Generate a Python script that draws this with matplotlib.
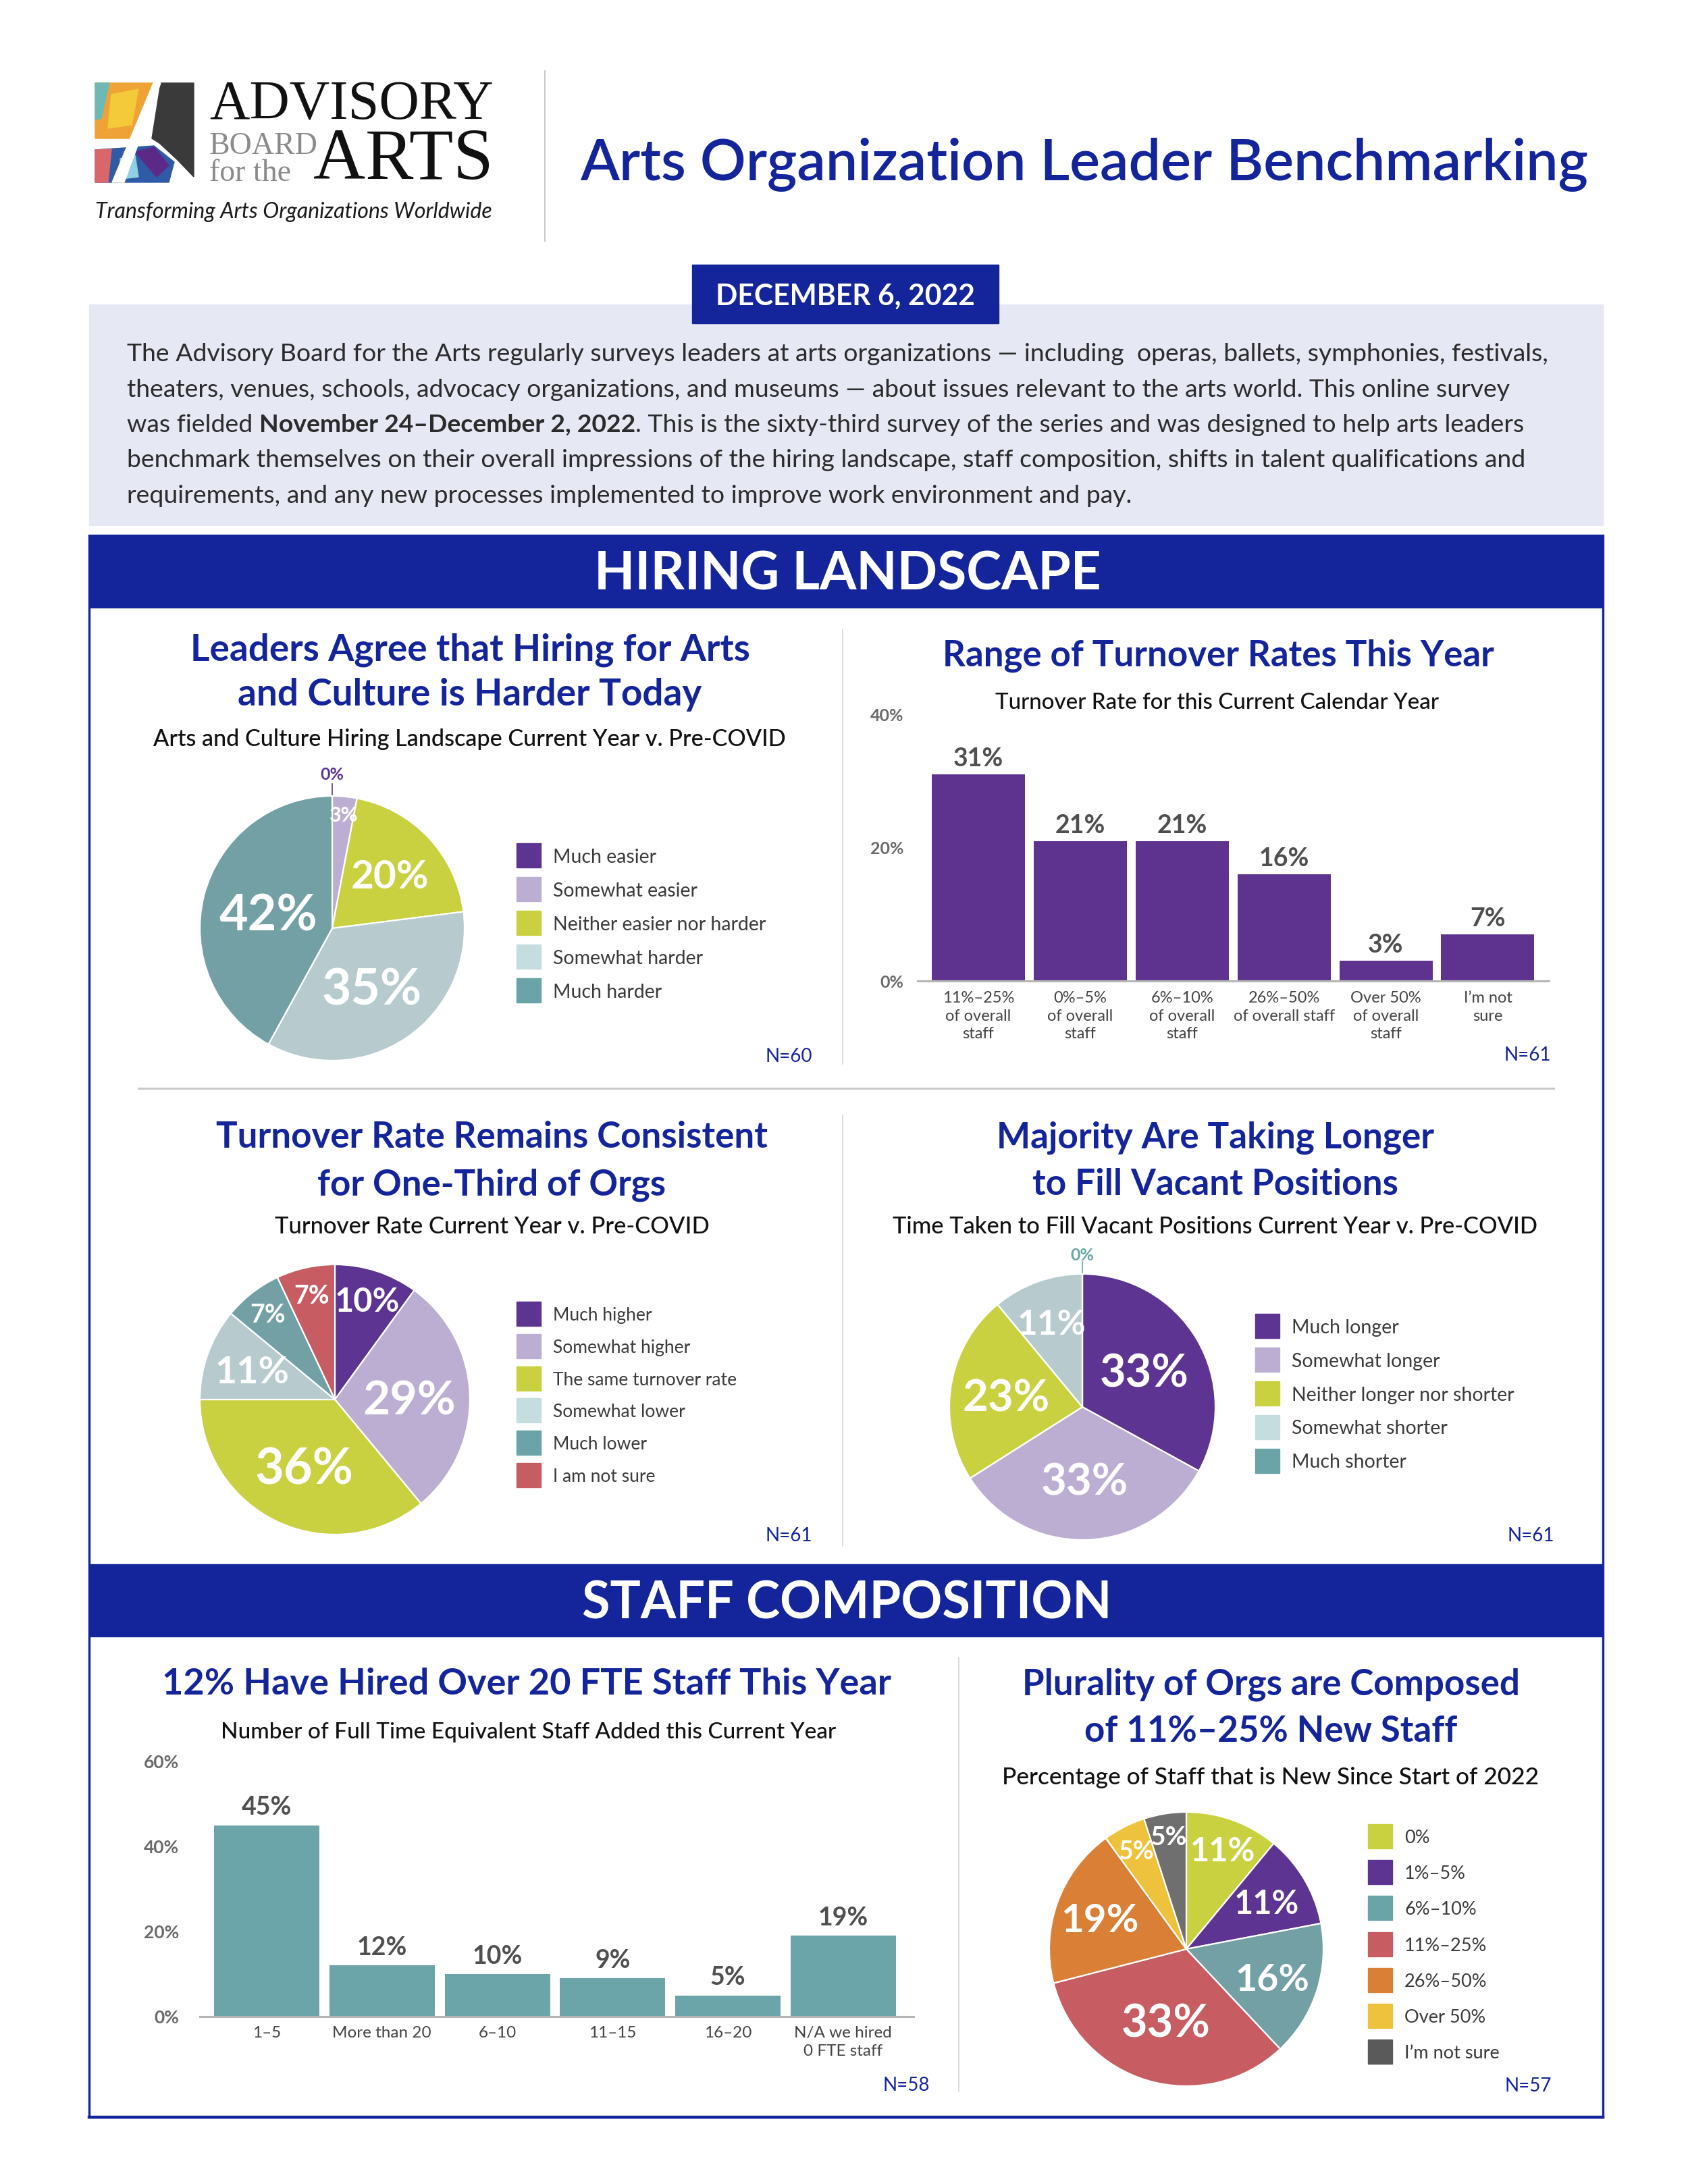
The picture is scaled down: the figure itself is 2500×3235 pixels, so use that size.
import matplotlib
matplotlib.use("Agg")
import matplotlib.pyplot as plt
from matplotlib.patches import Rectangle, Polygon
import numpy as np

# ------------------------------------------------------------------ data
hiring_cats = ["Much easier", "Somewhat easier", "Neither easier nor harder",
               "Somewhat harder", "Much harder"]
hiring_vals = [0, 3, 20, 35, 42]

range_cats = ["11%–25%\nof overall\nstaff", "0%–5%\nof overall\nstaff",
              "6%–10%\nof overall\nstaff", "26%–50%\nof overall staff",
              "Over 50%\nof overall\nstaff", "I’m not\nsure"]
range_vals = [31, 21, 21, 16, 3, 7]
range_ticks = [0, 20, 40]

turnover_cats = ["Much higher", "Somewhat higher", "The same turnover rate",
                 "Somewhat lower", "Much lower", "I am not sure"]
turnover_vals = [10, 29, 36, 11, 7, 7]

fill_cats = ["Much longer", "Somewhat longer", "Neither longer nor shorter",
             "Somewhat shorter", "Much shorter"]
fill_vals = [33, 33, 23, 11, 0]

fte_cats = ["1–5", "More than 20", "6–10", "11–15", "16–20", "N/A we hired\n0 FTE staff"]
fte_vals = [45, 12, 10, 9, 5, 19]
fte_ticks = [0, 20, 40, 60]

new_cats = ["0%", "1%–5%", "6%–10%", "11%–25%", "26%–50%", "Over 50%", "I’m not sure"]
new_vals = [11, 11, 16, 33, 19, 5, 5]

n_labels = ["N=60", "N=61", "N=61", "N=61", "N=58", "N=57"]

# ------------------------------------------------------------------ style
W, H = 2500, 3235
FONT = "Lato"
plt.rcParams['font.family'] = [FONT, 'DejaVu Sans']
BLUE = "#14259b"
PURPLE = "#5d3491"
LAV = "#bcaed2"
LIME = "#c9d141"
LGB = "#b7cbce"
TEAL = "#72a0a4"
RED = "#c85c63"
ORANGE = "#d97f36"
YELLOW = "#efc23d"
GRAY = "#6f6f6f"
BAR_PURPLE = "#5e3390"
BAR_TEAL = "#6ba4a9"
TXT = "#333333"

fig = plt.figure(figsize=(W / 100, H / 100), dpi=100)
fig.patch.set_facecolor("white")
bg = fig.add_axes([0, 0, 1, 1], zorder=0)
bg.set_xlim(0, W)
bg.set_ylim(H, 0)
bg.axis("off")
R = fig.canvas.get_renderer()


def T(x, y, s, size, width=None, ha="center", va="baseline", weight="normal",
      color=TXT, style="normal", family=None, ax=None, zorder=5, **extra):
    ax = ax or bg
    kw = dict(fontsize=size, ha=ha, va=va, fontweight=weight, color=color,
              fontstyle=style, zorder=zorder)
    kw.update(extra)
    if family:
        kw["family"] = family
    t = ax.text(x, y, s, **kw)
    if width:
        w = t.get_window_extent(R).width
        t.set_fontsize(size * width / w)
    return t


def measure(s, fs, weight="normal"):
    t = bg.text(0, 0, s, fontsize=fs, fontweight=weight)
    w = t.get_window_extent(R).width
    t.remove()
    return w


def title_block(cx, baselines, lines, width, size=42, weight="bold", color=BLUE):
    t0 = T(cx, baselines[0], lines[0], size, width=width, weight=weight, color=color)
    fs = t0.get_fontsize()
    for b, l in zip(baselines[1:], lines[1:]):
        T(cx, b, l, fs, weight=weight, color=color)


def pax(x0, y0, x1, y1, z=2):
    return fig.add_axes([x0 / W, 1 - y1 / H, (x1 - x0) / W, (y1 - y0) / H], zorder=z)


# ------------------------------------------------------------------ logo
bg.add_patch(Polygon([(141, 123), (227, 123), (197, 205), (141, 205)], closed=True,
                     color="#efa236", zorder=2))
bg.add_patch(Polygon([(141, 123), (162, 123), (150, 175), (141, 178)], closed=True,
                     color="#6fb9b5", zorder=3))
bg.add_patch(Polygon([(165, 140), (205, 132), (195, 185), (160, 190)], closed=True,
                     color="#f4c93a", zorder=3))
bg.add_patch(Polygon([(238, 123), (287, 123), (287, 262), (262, 236), (236, 212), (225, 205)],
                     closed=True, color="#3a3a3a", zorder=2))
bg.add_patch(Polygon([(141, 222), (228, 216), (258, 240), (250, 270), (141, 270)],
                     closed=True, color="#2f5aa6", zorder=2))
bg.add_patch(Polygon([(141, 222), (165, 221), (160, 270), (141, 270)], closed=True,
                     color="#d8666b", zorder=3))
bg.add_patch(Polygon([(200, 225), (228, 218), (250, 245), (232, 262)], closed=True,
                     color="#5b2a86", zorder=3))
bg.add_patch(Polygon([(178, 235), (200, 230), (205, 262), (180, 265)], closed=True,
                     color="#8fd0e0", zorder=3))
bg.add_patch(Polygon([(227, 123), (238, 123), (184, 270), (166, 270)], closed=True,
                     color="white", zorder=4))
T(310, 177, "ADVISORY", 60, width=421, ha="left", family="Liberation Serif", color="#111111")
T(310, 268, "BOARD\nfor the", 33, width=161, ha="left", family="Liberation Serif",
  color="#8a8a8a", linespacing=0.92)
T(464, 265, "ARTS", 70, width=267, ha="left", family="Liberation Serif", color="#111111")
T(141, 323, "Transforming Arts Organizations Worldwide", 24, width=590, ha="left",
  style="italic", color="#1a1a1a")
bg.plot([807, 807], [105, 357], color="#bdbdbd", lw=1.2, zorder=2)

# ------------------------------------------------------------------ header
T(859, 267, "Arts Organization Leader Benchmarking", 66, width=1494, ha="left",
  weight="semibold", color=BLUE)
bg.add_patch(Rectangle((132, 451), 2242, 327, color="#e6e8f4", zorder=1))
bg.add_patch(Rectangle((1025, 392), 454, 87, color=BLUE, zorder=3))
T(1252, 452, "DECEMBER 6, 2022", 30, width=384, weight="bold", color="white", zorder=6)

intro = [
    [("The Advisory Board for the Arts regularly surveys leaders at arts organizations — including  operas, ballets, symphonies, festivals,", False)],
    [("theaters, venues, schools, advocacy organizations, and museums — about issues relevant to the arts world. This online survey", False)],
    [("was fielded", False), ("November 24–December 2, 2022", True),
     (". This is the sixty-third survey of the series and was designed to help arts leaders", False)],
    [("benchmark themselves on their overall impressions of the hiring landscape, staff composition, shifts in talent qualifications and", False)],
    [("requirements, and any new processes implemented to improve work environment and pay.", False)],
]
fs_intro = 24 * 2107 / measure(intro[0][0][0], 24)
space_w = measure("a a", fs_intro) - measure("aa", fs_intro)
for i, line in enumerate(intro):
    y = 535 + 52.5 * i
    x = 188
    for j, (seg, bold) in enumerate(line):
        t = T(x, y, seg, fs_intro, ha="left", weight="bold" if bold else "normal",
              color="#2b2b2b")
        x += t.get_window_extent(R).width
        if seg == "was fielded":
            x += space_w

# ------------------------------------------------------------------ frame & bands
bg.add_patch(Rectangle((132, 793), 2242, 3136 - 793, fill=False, edgecolor=BLUE,
                       lw=2.4, zorder=3))
bg.plot([132, 2374], [3136, 3136], color=BLUE, lw=3.2, zorder=3)
bg.add_patch(Rectangle((132, 793), 2242, 107, color=BLUE, zorder=3))
bg.add_patch(Rectangle((132, 2317), 2242, 107, color=BLUE, zorder=3))
T(1255, 873, "HIRING LANDSCAPE", 54, width=752, weight="bold", color="white", zorder=6)
T(1254, 2398, "STAFF COMPOSITION", 54, width=784, weight="bold", color="white", zorder=6)

bg.plot([205, 2301], [1612, 1612], color="#c9c9c9", lw=2.2, zorder=2)
bg.plot([1248, 1248], [932, 1576], color="#d0d0d0", lw=1.1, zorder=2)
bg.plot([1248, 1248], [1652, 2290], color="#d0d0d0", lw=1.1, zorder=2)
bg.plot([1420, 1420], [2455, 3098], color="#d0d0d0", lw=1.1, zorder=2)

# ------------------------------------------------------------------ titles
title_block(696, [978, 1045], ["Leaders Agree that Hiring for Arts", "and Culture is Harder Today"], 829)
T(695, 1105, "Arts and Culture Hiring Landscape Current Year v. Pre-COVID", 26, width=938,
  weight="medium", color="#111111")
title_block(1804, [987], ["Range of Turnover Rates This Year"], 818)
T(1803, 1050, "Turnover Rate for this Current Calendar Year", 26, width=659,
  weight="medium", color="#111111")
title_block(728, [1700, 1770], ["Turnover Rate Remains Consistent", "for One-Third of Orgs"], 818)
T(729, 1827, "Turnover Rate Current Year v. Pre-COVID", 26, width=645,
  weight="medium", color="#111111")
title_block(1800, [1700, 1770], ["Majority Are Taking Longer", "to Fill Vacant Positions"], 649)
T(1800, 1827, "Time Taken to Fill Vacant Positions Current Year v. Pre-COVID", 26, width=959,
  weight="medium", color="#111111")
title_block(780, [2510], ["12% Have Hired Over 20 FTE Staff This Year"], 1083)
T(783, 2575, "Number of Full Time Equivalent Staff Added this Current Year", 26, width=914,
  weight="medium", color="#111111")
title_block(1882, [2510, 2580], ["Plurality of Orgs are Composed", "of 11%–25% New Staff"], 737)
T(1882, 2643, "Percentage of Staff that is New Since Start of 2022", 26, width=796,
  weight="medium", color="#111111")

# N labels
for (x, y), s in zip([(1203, 1573), (2297, 1571), (1203, 2283), (2302, 2283),
                      (1377, 3097), (2298, 3098)], n_labels):
    T(x, y, s, 20, ha="right", color=BLUE)


# ------------------------------------------------------------------ pies
def pie(cx, cy, r, vals, colors, radii, sizes, zero_color):
    ax = pax(cx - r, cy - r, cx + r, cy + r)
    wedges, _ = ax.pie(vals, colors=colors, startangle=90, counterclock=False,
                       wedgeprops=dict(edgecolor="white", linewidth=1.6))
    ax.set_xlim(-1, 1)
    ax.set_ylim(-1, 1)
    ax.axis("off")
    for w, v, rr, s in zip(wedges, vals, radii, sizes):
        w.set_clip_on(False)
        ang = np.deg2rad((w.theta1 + w.theta2) / 2)
        cxl, cyl = np.cos(ang), np.sin(ang)
        if v > 0:
            ax.text(rr * cxl, rr * cyl, f"{v}%", ha="center", va="center_baseline",
                    fontsize=s, color="white", fontweight="bold", clip_on=False)
        else:
            ax.text(rr * cxl, rr * cyl, f"{v}%", ha="center", va="center_baseline",
                    fontsize=s, color=zero_color, fontweight="bold", clip_on=False)
            ax.plot([1.01 * cxl, 1.09 * cxl], [1.01 * cyl, 1.09 * cyl],
                    color=zero_color, lw=1.2, clip_on=False)


def legend(x, y0, step, cats, colors, fs, size=36):
    for i, (c, col) in enumerate(zip(cats, colors)):
        yc = y0 + i * step
        bg.add_patch(Rectangle((x, yc - size / 2), size, size, color=col, zorder=4))
        T(x + size + 18, yc, c, fs, ha="left", va="center_baseline", color="#3b3b3b")


pie(492, 1375, 196, hiring_vals, [PURPLE, LAV, LIME, LGB, TEAL],
    [1.17, 0.87, 0.6, 0.53, 0.5], [18, 22, 42, 54, 53], PURPLE)
legend(765, 1267, 50, hiring_cats, [PURPLE, LAV, LIME, "#c6dde0", "#6aa4a8"], 20.5)

pie(496, 2073, 200, turnover_vals, [PURPLE, LAV, LIME, LGB, TEAL, RED],
    [0.78, 0.55, 0.54, 0.65, 0.81, 0.8], [35, 50, 53, 40, 27, 27], PURPLE)
legend(765, 1946, 47.8, turnover_cats, [PURPLE, LAV, LIME, "#c6dde0", "#6aa4a8", RED], 19)

pie(1603, 2084, 197, fill_vals, [PURPLE, LAV, LIME, LGB, TEAL],
    [0.54, 0.54, 0.58, 0.68, 1.15], [48, 47, 47, 37, 18], "#6aa4a8")
legend(1859, 1964, 50, fill_cats, [PURPLE, LAV, LIME, "#c6dde0", "#6aa4a8"], 20.5)

pie(1757, 2887, 203, new_vals, [LIME, PURPLE, TEAL, RED, ORANGE, YELLOW, GRAY],
    [0.78, 0.68, 0.66, 0.54, 0.67, 0.81, 0.84], [35, 35, 40, 48, 42, 27, 28], GRAY)
legend(2026, 2720, 53.2, new_cats, [LIME, PURPLE, "#6aa4a8", RED, ORANGE, YELLOW, "#5a5a5a"], 19.5)


# ------------------------------------------------------------------ bars
def bars(x0, x1, base_y, ppp, ymax, cats, vals, color, bw, ticks, xlim,
         tick_fs, tick_pad, xl_fs, xl_pad, xl_ls, gap):
    top = base_y - ppp * ymax
    ax = pax(x0, top, x1, base_y)
    ax.patch.set_alpha(0)
    xs = np.arange(len(vals))
    ax.bar(xs, vals, width=bw, color=color, zorder=2)
    ax.set_xlim(*xlim)
    ax.set_ylim(0, ymax)
    for s in ax.spines.values():
        s.set_visible(False)
    ax.axhline(0, color="#b5b5b5", lw=2.2, zorder=3, clip_on=False)
    ax.set_yticks(ticks)
    ax.set_yticklabels([f"{t}%" for t in ticks], fontweight="bold")
    ax.tick_params(axis="y", length=0, pad=tick_pad, labelsize=tick_fs, labelcolor="#6a6a6a")
    ax.set_xticks(xs)
    ax.set_xticklabels(cats, fontsize=xl_fs, color="#444444", linespacing=xl_ls)
    ax.tick_params(axis="x", length=0, pad=xl_pad)
    for x, v in zip(xs, vals):
        ax.annotate(f"{v}%", (x, v), xytext=(0, gap), textcoords="offset points",
                    ha="center", va="baseline", fontsize=27, fontweight="bold",
                    color="#4f4f4f")


bars(1359, 2294, 1453, 9.87, 40, range_cats, range_vals, BAR_PURPLE, 0.914,
     range_ticks, (-0.596, 5.6), 18, 15, 17, 11, 1.32, 8.6)
bars(296, 1353, 2987, 6.3, 60, fte_cats, fte_vals, BAR_TEAL, 0.913,
     fte_ticks, (-0.58, 5.61), 19, 22, 17.5, 10, 1.36, 10.8)

fig.savefig("out.png", dpi=100)
